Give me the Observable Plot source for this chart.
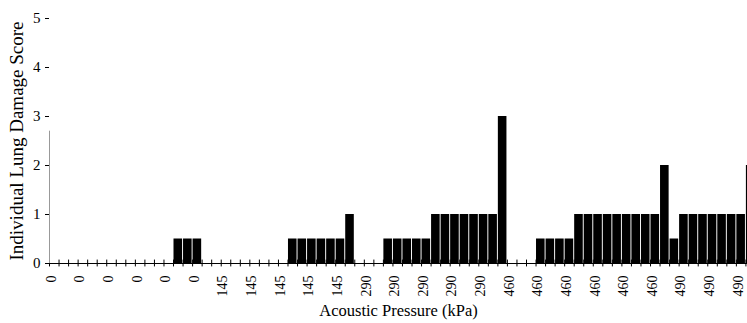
<!DOCTYPE html>
<html>
<head>
<meta charset="utf-8">
<script src="https://cdn.jsdelivr.net/npm/d3@7"></script>
<script src="https://cdn.jsdelivr.net/npm/@observablehq/plot@0.6"></script>
<style>
  html, body { margin: 0; padding: 0; background: white; overflow: hidden; }
  #chart { width: 747px; height: 323px; overflow: hidden; }
  #chart svg text { font-family: 'Liberation Serif', 'Times New Roman', serif; }
</style>
</head>
<body>
<div id="chart"></div>
<script>
// Acoustic pressure (kPa) of each animal, in plotting order
const pressure = [
  0,0,0,0,0,0,0,0,0,0,0,0,0,0,0,0,0,
  145,145,145,145,145,145,145,145,145,145,145,145,145,145,145,
  290,290,290,290,290,290,290,290,290,290,290,290,290,290,290,290,
  460,460,460,460,460,460,460,460,460,460,460,460,460,460,460,460,460,460,
  490,490,490,490,490,490,490,490
];
// Individual lung damage score of each animal
const score = [
  0,0,0,0,0,0,0,0,0,0,0,0,0, 0.5,0.5,0.5,
  0,0,0,0,0,0,0,0,0, 0.5,0.5,0.5,0.5,0.5,0.5, 1,
  0,0,0, 0.5,0.5,0.5,0.5,0.5, 1,1,1,1,1,1,1, 3,
  0,0,0, 0.5,0.5,0.5,0.5, 1,1,1,1,1,1,1,1,1, 2, 0.5,
  1,1,1,1,1,1,1, 2
];
const yTicks = [0, 1, 2, 3, 4, 5];

const n = score.length;
const idx = d3.range(n);
const data = idx.map(i => ({i, p: pressure[i], s: score[i]}));

const marginLeft = 49;
const step = 9.54;
const xRange = [marginLeft, marginLeft + n * step];

const chart = Plot.plot({
  width: 747,
  height: 323,
  marginLeft,
  marginRight: 0,
  marginTop: 18,
  marginBottom: 60,
  style: {fontFamily: "'Liberation Serif', 'Times New Roman', serif", fontSize: "17px", color: "black", background: "white"},
  x: {type: "band", domain: idx, range: xRange, paddingInner: 0.1, paddingOuter: 0.05},
  y: {domain: [0, 5]},
  marks: [
    Plot.barY(data, {x: "i", y: "s", fill: "black"}),
    Plot.ruleY([0], {stroke: "black", strokeWidth: 1}),
    Plot.ruleX(idx, {x: d => d, y1: -0.07, y2: 0.07, dx: -step / 2, stroke: "black", strokeWidth: 1}),
    Plot.ruleX([0], {x: d => d, y1: 0, y2: 2.7, dx: -step / 2, stroke: "#999", strokeWidth: 1}),
    Plot.axisY({
      ticks: yTicks, tickFormat: d3.format("d"), tickSize: 4, tickPadding: 5, fontSize: 15,
      label: null
    }),
    Plot.axisY({
      ticks: [], tickSize: 0, fontSize: 19,
      label: "Individual Lung Damage Score", labelAnchor: "center", labelArrow: "none",
      labelOffset: 40
    }),
    Plot.axisX({
      ticks: idx.filter(i => i % 3 === 0),
      tickFormat: i => String(pressure[i]),
      tickRotate: -90, tickSize: 0, tickPadding: 12, fontSize: 14, dx: -3,
      label: null
    }),
    Plot.axisX({
      ticks: [], tickSize: 0, fontSize: 16.5,
      label: "Acoustic Pressure (kPa)", labelAnchor: "center", labelArrow: "none",
      labelOffset: 52
    })
  ]
});
document.getElementById("chart").appendChild(chart);
</script>
</body>
</html>
